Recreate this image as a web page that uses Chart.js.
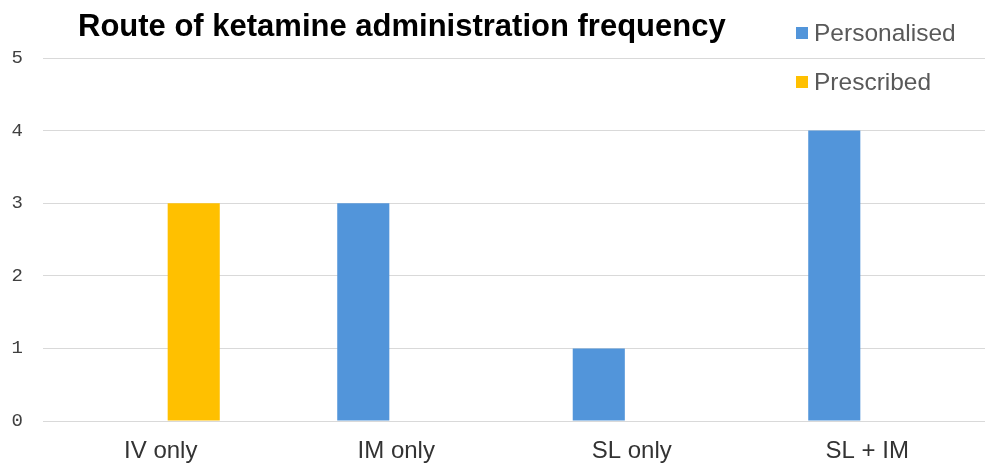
<!DOCTYPE html>
<html lang="en">
<head>
<meta charset="UTF-8">
<title>Route of ketamine administration frequency</title>
<script src="https://cdn.jsdelivr.net/npm/chart.js@4.4.4/dist/chart.umd.js"></script>
<style>
  html, body { margin: 0; padding: 0; background: #fff; }
  #wrap { width: 987px; height: 463px; }
</style>
</head>
<body>
<div id="wrap"><canvas id="myChart" width="987" height="463"></canvas></div>
<script>
// categories and values
const categories = ['IV only', 'IM only', 'SL only', 'SL + IM'];
const personalised = [0, 3, 1, 4];
const prescribed = [3, 0, 0, 0];
const yTicks = [0, 1, 2, 3, 4, 5];
const chartTitle = 'Route of ketamine administration frequency';

// title + legend drawn on top (the legend sits over the plot area in the original)
const headerPlugin = {
  id: 'header',
  afterDraw(chart) {
    const ctx = chart.ctx;
    ctx.save();
    ctx.fillStyle = '#000';
    ctx.font = 'bold 31px "Liberation Sans", Arial, sans-serif';
    ctx.textAlign = 'left';
    ctx.textBaseline = 'alphabetic';
    ctx.fillText(chartTitle, 78, 36);

    ctx.font = '24.5px "Liberation Sans", Arial, sans-serif';
    chart.data.datasets.forEach((ds, i) => {
      const y = 27 + i * 49;
      ctx.fillStyle = ds.backgroundColor;
      ctx.fillRect(796, y, 12, 12);
      ctx.fillStyle = '#595959';
      ctx.fillText(ds.label, 814, y + 14);
    });
    ctx.restore();
  }
};

const ctx = document.getElementById('myChart').getContext('2d');
const myChart = new Chart(ctx, {
  type: 'bar',
  data: {
    labels: categories,
    datasets: [
      {
        label: 'Personalised',
        data: personalised,
        backgroundColor: '#5295da',
        categoryPercentage: 0.56,
        barPercentage: 0.79
      },
      {
        label: 'Prescribed',
        data: prescribed,
        backgroundColor: '#ffc000',
        categoryPercentage: 0.56,
        barPercentage: 0.79
      }
    ]
  },
  options: {
    responsive: false,
    animation: false,
    layout: { padding: { top: 58, left: 12, right: 2, bottom: 0 } },
    plugins: {
      legend: { display: false },
      title: { display: false }
    },
    scales: {
      x: {
        grid: { display: false, drawTicks: false },
        border: { display: false },
        afterFit: (axis) => { axis.height = 42; },
        ticks: {
          color: '#333',
          padding: 18,
          font: { family: '"Liberation Sans", Arial, sans-serif', size: 24, lineHeight: 1 }
        }
      },
      y: {
        min: 0,
        max: 5,
        afterBuildTicks: (axis) => { axis.ticks = yTicks.map(v => ({ value: v })); },
        afterFit: (axis) => { axis.width = 31; },
        grid: { color: '#d9d9d9', lineWidth: 1, drawTicks: false },
        border: { display: false },
        ticks: {
          color: '#404040',
          padding: 20,
          font: { family: '"Liberation Mono", "Courier New", monospace', size: 19 }
        }
      }
    }
  },
  plugins: [headerPlugin]
});
</script>
</body>
</html>
